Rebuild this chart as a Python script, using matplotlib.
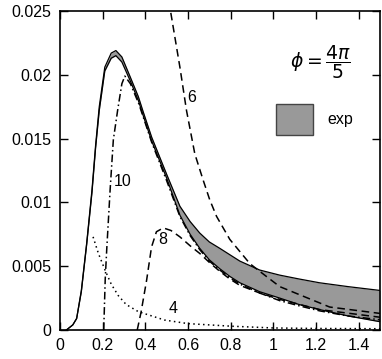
import numpy as np
import matplotlib
matplotlib.use("Agg")
import matplotlib.pyplot as plt
from matplotlib.patches import Patch

plt.rcParams['font.family'] = ['Liberation Sans', 'DejaVu Sans']
plt.rcParams['mathtext.fontset'] = 'dejavusans'

# experimental band (upper / lower edge)
band_x = [0.03, 0.06, 0.078, 0.10, 0.125, 0.15, 0.167, 0.184, 0.21, 0.24, 0.262,
          0.29, 0.33, 0.367, 0.39, 0.43, 0.50, 0.562, 0.61, 0.655, 0.70, 0.749,
          0.796, 0.843, 0.936, 1.03, 1.12, 1.217, 1.35, 1.5]
band_upper = [0, 0.0004, 0.0009, 0.0031, 0.0068, 0.0110, 0.0145, 0.0175, 0.0206,
              0.0217, 0.0219, 0.0214, 0.0198, 0.0183, 0.0171, 0.0151, 0.0122,
              0.0097, 0.0085, 0.0076, 0.0069, 0.0064, 0.0059, 0.0054, 0.0047,
              0.0043, 0.0040, 0.0037, 0.0034, 0.0031]
band_lower = [0, 0.0004, 0.0009, 0.0030, 0.0067, 0.0108, 0.0143, 0.0172, 0.0203,
              0.0213, 0.0215, 0.0210, 0.0195, 0.0180, 0.0168, 0.0148, 0.0119,
              0.0090, 0.0075, 0.0064, 0.0055, 0.0048, 0.0042, 0.0037, 0.0030,
              0.0025, 0.0020, 0.0016, 0.0011, 0.00065]

# N = 10 (dash-dot)
n10_x = [0.205, 0.212, 0.219, 0.235, 0.25, 0.27, 0.29, 0.304, 0.33, 0.37, 0.43,
         0.50, 0.562, 0.61, 0.655, 0.70, 0.749, 0.796, 0.843, 0.936, 1.03, 1.12,
         1.217, 1.35, 1.5]
n10_y = [0, 0.0040, 0.0063, 0.0110, 0.0149, 0.0172, 0.0193, 0.0199, 0.0193,
         0.0177, 0.0147, 0.0117, 0.0089, 0.0074, 0.0063, 0.0054, 0.0047, 0.0041,
         0.0036, 0.0029, 0.0023, 0.0019, 0.0015, 0.0011, 0.0008]

# N = 8 (dashed)
n8_x = [0.362, 0.38, 0.406, 0.429, 0.452, 0.484, 0.52, 0.562, 0.61, 0.655, 0.70,
        0.749, 0.796, 0.843, 0.936, 1.03, 1.217, 1.5]
n8_y = [0, 0.0014, 0.0039, 0.0065, 0.0077, 0.0080, 0.0078, 0.0073, 0.0066,
        0.0060, 0.0053, 0.0046, 0.0040, 0.0035, 0.0029, 0.0024, 0.0016, 0.0010]

# N = 6 (dashed)
n6_x = [0.51, 0.518, 0.562, 0.593, 0.632, 0.67, 0.702, 0.734, 0.796, 0.89,
        0.936, 1.03, 1.264, 1.5]
n6_y = [0.0258, 0.025, 0.0206, 0.0172, 0.0138, 0.0118, 0.0102, 0.0089, 0.0071,
        0.0052, 0.0046, 0.0034, 0.0018, 0.0013]

# N = 4 (dotted)
n4_x = [0.155, 0.18, 0.211, 0.24, 0.273, 0.31, 0.367, 0.49, 0.6, 0.8, 1.0,
        1.2, 1.5]
n4_y = [0.0073, 0.0060, 0.0047, 0.0036, 0.0027, 0.0020, 0.00144, 0.00078,
        0.0005, 0.0003, 0.00016, 0.00012, 0.0001]

xticks = [0, 0.2, 0.4, 0.6, 0.8, 1.0, 1.2, 1.4]
xticklabels = ['0', '0.2', '0.4', '0.6', '0.8', '1', '1.2', '1.4']
yticks = [0, 0.005, 0.01, 0.015, 0.02, 0.025]
yticklabels = ['0', '0.005', '0.01', '0.015', '0.02', '0.025']

fig = plt.figure(figsize=(3.82, 3.59), dpi=100)
ax = fig.add_axes([60 / 382, 29 / 359, 320 / 382, 319 / 359])

band_color = '#999999'
ax.fill_between(band_x, band_lower, band_upper, color=band_color, lw=0)
ax.plot(band_x, band_upper, color='black', lw=0.9)
ax.plot(band_x, band_lower, color='black', lw=0.9)

ax.plot(n10_x, n10_y, color='black', lw=1.1, linestyle=(0, (5, 2, 1, 2)))
ax.plot(n8_x, n8_y, color='black', lw=1.1, linestyle=(0, (5, 3)))
ax.plot(n6_x, n6_y, color='black', lw=1.1, linestyle=(0, (5, 3)))
ax.plot(n4_x, n4_y, color='black', lw=1.1, linestyle=(0, (1, 2.2)))

fs = 11.5
ax.text(0.618, 0.0182, '6', fontsize=fs, ha='center', va='center')
ax.text(0.482, 0.0071, '8', fontsize=fs, ha='center', va='center')
ax.text(0.295, 0.0116, '10', fontsize=fs, ha='center', va='center')
ax.text(0.529, 0.0017, '4', fontsize=fs, ha='center', va='center')

ax.text(0.815, 0.84, r'$\phi = \dfrac{4\pi}{5}$', fontsize=13.5,
        ha='center', va='center', transform=ax.transAxes)

handle = Patch(facecolor=band_color, edgecolor='#444444', lw=1)
ax.legend([handle], ['exp'], loc='upper left', bbox_to_anchor=(0.675, 0.71),
          frameon=False, fontsize=fs, handlelength=2.3, handleheight=2.7,
          handletextpad=0.9, borderpad=0, borderaxespad=0)

ax.set_xlim(0, 1.5)
ax.set_ylim(0, 0.025)
ax.set_xticks(xticks)
ax.set_xticklabels(xticklabels)
ax.set_yticks(yticks)
ax.set_yticklabels(yticklabels)
ax.tick_params(direction='in', length=6, width=1, top=True, right=True,
               labelsize=fs, pad=6)
for s in ax.spines.values():
    s.set_linewidth(1.2)

fig.savefig('out.png', dpi=100)
